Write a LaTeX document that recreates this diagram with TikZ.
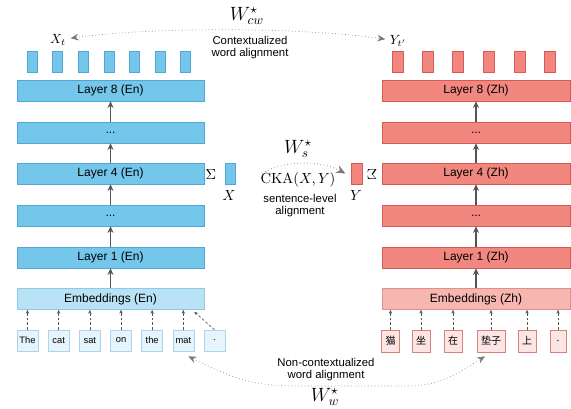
\documentclass[tikz,border=0pt]{standalone}
\usepackage[no-math]{fontspec}
\setmainfont{Liberation Sans}
\newfontfamily\cjk{Noto Sans CJK SC}
\usetikzlibrary{arrows.meta}

\definecolor{enfill}{HTML}{75C6EB}
\definecolor{enline}{HTML}{4FA7D7}
\definecolor{enembfill}{HTML}{B9E2F5}
\definecolor{enembline}{HTML}{8CCAEA}
\definecolor{enwordfill}{HTML}{E6F4FB}
\definecolor{enwordline}{HTML}{A9D5EE}
\definecolor{zhfill}{HTML}{F1877E}
\definecolor{zhline}{HTML}{D95A54}
\definecolor{zhembfill}{HTML}{F8B6B1}
\definecolor{zhembline}{HTML}{E0908A}
\definecolor{zhwordfill}{HTML}{FCE5E3}
\definecolor{zhwordline}{HTML}{D4847F}
\definecolor{arrowgray}{HTML}{555555}
\definecolor{dotgray}{HTML}{7A7A7A}

\begin{document}
\begin{tikzpicture}[x=0.75pt,y=0.75pt,yscale=-1,xscale=1,
  layeren/.style={draw=enline,fill=enfill,minimum width=140.25pt,minimum height=15.75pt,inner sep=0pt,font=\fontsize{9}{10}\selectfont},
  layerzh/.style={layeren,draw=zhline,fill=zhfill,minimum width=141pt},
  embeden/.style={layeren,draw=enembline,fill=enembfill},
  embedzh/.style={layerzh,draw=zhembline,fill=zhembfill},
  topen/.style={draw=enline,fill=enfill,minimum width=7.5pt,minimum height=15.75pt,inner sep=0pt},
  topzh/.style={draw=zhline,fill=zhfill,minimum width=8.25pt,minimum height=15.75pt,inner sep=0pt},
  worden/.style={draw=enwordline,fill=enwordfill,minimum width=15.75pt,minimum height=15.75pt,inner sep=0pt,font=\fontsize{7}{8}\selectfont},
  wordzh/.style={draw=zhwordline,fill=zhwordfill,minimum width=12pt,minimum height=16.5pt,inner xsep=3pt,inner ysep=0pt,font=\cjk\fontsize{7.5}{8}\selectfont},
  layerarrow/.style={draw=arrowgray,line width=0.9pt,-{Stealth[length=5pt,width=4.5pt]}},
  wordarrow/.style={draw=arrowgray,line width=0.5pt,dash pattern=on 2pt off 1.5pt,-{Stealth[length=3pt,width=2.5pt]}},
  alignarrow/.style={draw=dotgray,line width=0.5pt,dotted,{Stealth[length=6pt,width=5pt,inset=2pt]}-{Stealth[length=6pt,width=5pt,inset=2pt]}},
  note/.style={align=center,font=\fontsize{8.5}{9}\selectfont},
  mathlab/.style={inner sep=0pt,font=\fontsize{11}{12}\selectfont},
  weightlab/.style={inner sep=0pt,font=\fontsize{14.4}{16}\selectfont},
]
\path[use as bounding box] (0,0) rectangle (571,409);

% English encoder
\node[layeren] (en8) at (110.5,90.5) {Layer 8 (En)};
\node[layeren] (endotsb) at (110.5,132.5) {...};
\node[layeren] (en4) at (110.5,173.5) {Layer 4 (En)};
\node[layeren] (endotsa) at (110.5,215.5) {...};
\node[layeren] (en1) at (110.5,257.5) {Layer 1 (En)};
\node[embeden] (enemb) at (110.5,299) {Embeddings (En)};
\foreach \a/\b in {enemb/en1,en1/endotsa,endotsa/en4,en4/endotsb,endotsb/en8}
  \draw[layerarrow] (\a) -- (\b);

% Chinese encoder
\node[layerzh] (zh8) at (476,90.5) {Layer 8 (Zh)};
\node[layerzh] (zhdotsb) at (476,132.5) {...};
\node[layerzh] (zh4) at (476,173.5) {Layer 4 (Zh)};
\node[layerzh] (zhdotsa) at (476,215.5) {...};
\node[layerzh] (zh1) at (476,257.5) {Layer 1 (Zh)};
\node[embedzh] (zhemb) at (476,299) {Embeddings (Zh)};
\foreach \a/\b in {zhemb/zh1,zh1/zhdotsa,zhdotsa/zh4,zh4/zhdotsb,zhdotsb/zh8}
  \draw[layerarrow] (\a) -- (\b);

% output token vectors
\foreach \i in {0,...,6}
  \node[topen] (xt\i) at ({32+25.6*\i},62) {};
\foreach \x [count=\i] in {397.5,427.5,457.5,488.5,520,549.5}
  \node[topzh] (yt\i) at (\x,62) {};

% input words
\foreach \w [count=\i] in {The,cat,sat,on,the,mat,.}
  \node[worden] (wen\i) at ({27.5+31.17*(\i-1)},340.5) {\w};
\foreach \i in {1,...,6}
  \draw[wordarrow] (wen\i) -- (wen\i |- enemb.south);
\draw[wordarrow] (wen7.north) -- ([shift={(-10,2)}]enemb.south east);

\foreach \w/\x [count=\i] in {猫/390.5,坐/421,在/453,垫子/491,上/527,./558}
  \node[wordzh] (wzh\i) at (\x,341) {\w};
\foreach \i in {1,...,6}
  \draw[wordarrow] (wzh\i) -- (wzh\i |- zhemb.south);

% contextualized word alignment
\node[font=\fontsize{10}{12}\selectfont] (xtlab) at (58,40) {$X_t$};
\node[font=\fontsize{10}{12}\selectfont] (ytlab) at (398,41) {$Y_{t'}$};
\draw[alignarrow] (xtlab) .. controls (150,27) and (300,27) .. (ytlab);
\node[weightlab] (wcw) at (247,16) {$W^\star_{cw}$};
\node[note] (cwnote) at (250,48) {Contextualized\\word alignment};

% sentence-level alignment
\node[topen] (xbox) at (230,173.5) {};
\node[topzh] (ybox) at (356.5,173.5) {};
\node[mathlab] (sumx) at (211,174.5) {$\Sigma$};
\node[mathlab] (sumy) at (372,174.5) {\reflectbox{$\Sigma$}};
\node[mathlab] (xlab) at (229,196) {$X$};
\node[mathlab] (ylab) at (356,196) {$Y$};
\coordinate (cfrom) at ([xshift=20pt]xbox.east);
\coordinate (cto) at ([xshift=-4pt]ybox.west);
\draw[alignarrow,{Stealth[length=7pt,width=6pt]}-] (cto) .. controls (320,160) and (285,160) .. (cfrom);
\node[weightlab] (ws) at (298,149) {$W^\star_s$};
\node[mathlab] (cka) at (298,180) {$\mathrm{CKA}(X,Y)$};
\node[note] (snote) at (300,206) {sentence-level\\alignment};

% non-contextualized word alignment
\draw[alignarrow] ([shift={(5,5)}]wen6.south) .. controls (235,380) and (255,386) .. (300,386)
  -- (405,386) .. controls (440,386) and (455,375) .. ([shift={(-6,4)}]wzh4.south);
\node[note] (wnote) at (326,370) {Non-contextualized\\word alignment};
\node[weightlab] (ww) at (325,397) {$W^\star_w$};
\end{tikzpicture}
\end{document}
